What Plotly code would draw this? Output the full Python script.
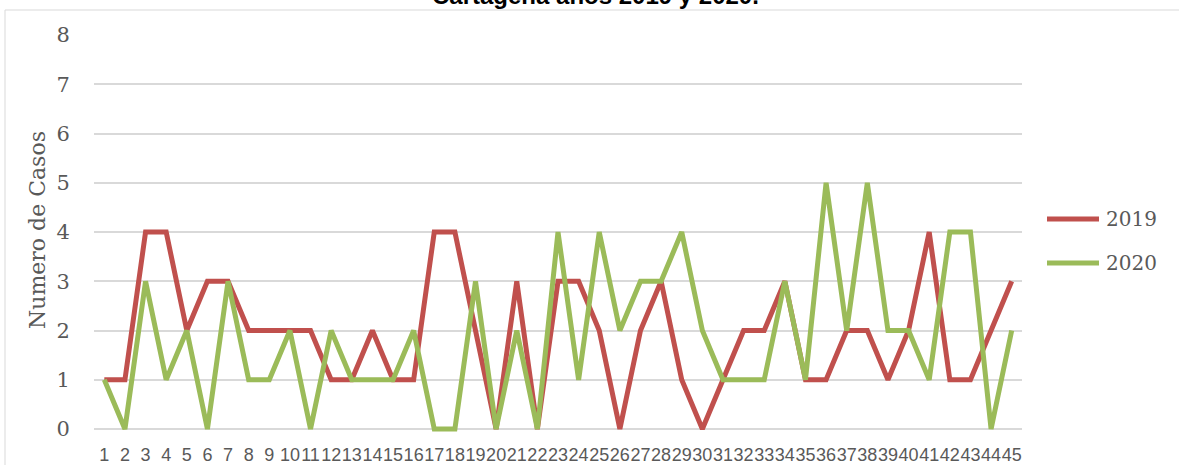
import plotly.graph_objects as go

semanas = list(range(1, 46))
casos_2019 = [1, 1, 4, 4, 2, 3, 3, 2, 2, 2, 2, 1, 1, 2, 1, 1, 4, 4, 2, 0, 3, 0, 3, 3, 2,
              0, 2, 3, 1, 0, 1, 2, 2, 3, 1, 1, 2, 2, 1, 2, 4, 1, 1, 2, 3]
casos_2020 = [1, 0, 3, 1, 2, 0, 3, 1, 1, 2, 0, 2, 1, 1, 1, 2, 0, 0, 3, 0, 2, 0, 4, 1, 4,
              2, 3, 3, 4, 2, 1, 1, 1, 3, 1, 5, 2, 5, 2, 2, 1, 4, 4, 0, 2]
series_names = ["2019", "2020"]
colors = ["#C0504D", "#9BBB59"]
titulo = "Cartagena años 2019 y 2020."
y_titulo = "Numero de Casos"

W, H = 1179, 465
L, R, T, B = 94, 157, 35, 32
pw, ph = W - L - R, H - T - B

def px_x(px):
    return (px - L) / pw

def px_y(py):
    return (H - B - py) / ph

serif = "DejaVu Serif"
gray = "#595959"

fig = go.Figure()
for name, vals, col in zip(series_names, [casos_2019, casos_2020], colors):
    fig.add_trace(go.Scatter(x=semanas, y=vals, mode="lines", name=name,
                             line=dict(color=col, width=5), showlegend=False))

shapes = [dict(type="rect", xref="paper", yref="paper",
               x0=px_x(5), x1=px_x(1200), y0=px_y(480), y1=px_y(10),
               line=dict(color="#D9D9D9", width=1), fillcolor="rgba(0,0,0,0)", layer="below")]
annotations = [
    dict(text=titulo, xref="paper", yref="paper", x=px_x(595), y=px_y(-5),
         xanchor="center", yanchor="middle", showarrow=False,
         font=dict(family="Liberation Sans", size=24, color="#000000", weight="bold")),
    dict(text=y_titulo, xref="paper", yref="paper", x=px_x(38), y=px_y(230),
         xanchor="center", yanchor="middle", showarrow=False, textangle=-90,
         font=dict(family=serif, size=22, color=gray)),
]
for i, (name, col) in enumerate(zip(series_names, colors)):
    py = 219 + i * 44
    shapes.append(dict(type="line", xref="paper", yref="paper",
                       x0=px_x(1047), x1=px_x(1099), y0=px_y(py), y1=px_y(py),
                       line=dict(color=col, width=5)))
    annotations.append(dict(text=name, xref="paper", yref="paper", x=px_x(1104), y=px_y(py),
                            xanchor="left", yanchor="middle", showarrow=False,
                            font=dict(family=serif, size=20, color=gray)))

fig.update_layout(
    template="none",
    width=W, height=H,
    margin=dict(l=L, r=R, t=T, b=B, pad=0, autoexpand=False),
    paper_bgcolor="white", plot_bgcolor="white",
    shapes=shapes, annotations=annotations,
    xaxis=dict(range=[0.5, 45.5], tickmode="array", tickvals=semanas,
               ticktext=[str(s) for s in semanas], showgrid=False, zeroline=False,
               showline=False, ticks="outside", ticklen=5, tickcolor="rgba(0,0,0,0)",
               tickangle=0, automargin=False,
               tickfont=dict(family="Liberation Sans", size=18, color=gray)),
    yaxis=dict(range=[-0.08, 8], tickmode="array", tickvals=list(range(0, 9)),
               showgrid=True, gridcolor="#D9D9D9", gridwidth=1.5,
               zeroline=True, zerolinecolor="#D9D9D9", zerolinewidth=1.5,
               showline=False, ticks="outside", ticklen=19, tickcolor="rgba(0,0,0,0)",
               automargin=False,
               tickfont=dict(family=serif, size=21, color=gray)),
)

fig.write_html("out.html", config={"displayModeBar": False},
               post_script="document.body.style.margin='0';document.body.style.overflow='hidden';")
